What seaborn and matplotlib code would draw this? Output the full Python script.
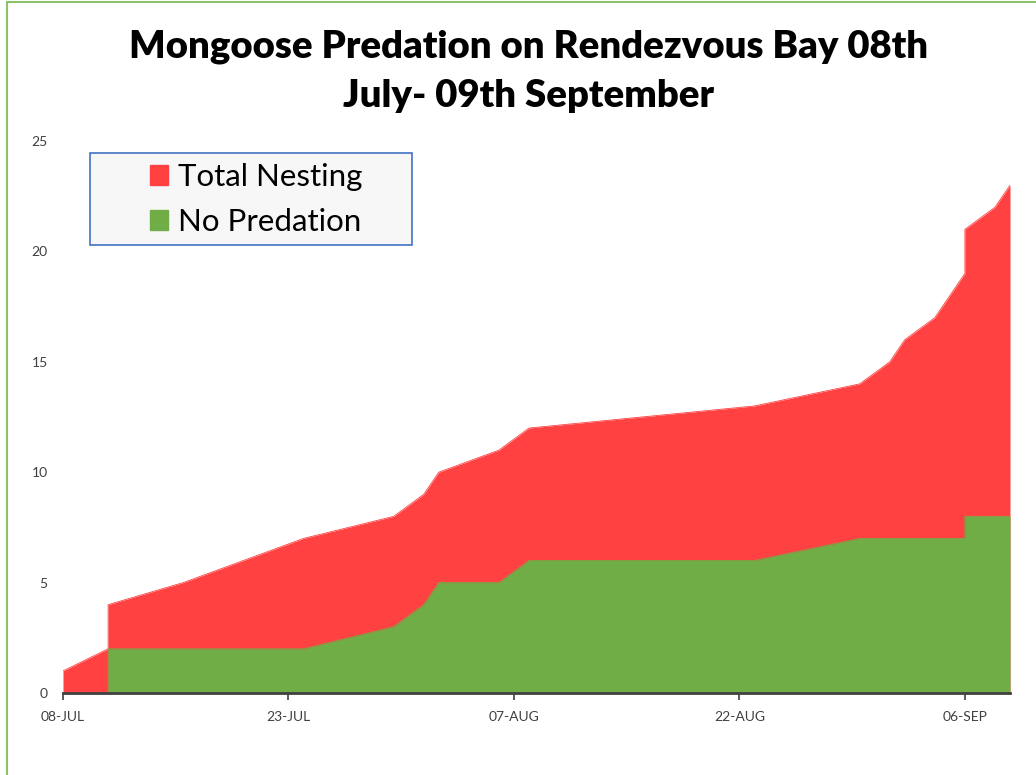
import pandas as pd
import matplotlib.pyplot as plt
from matplotlib.lines import Line2D
from matplotlib.patches import Patch, Rectangle
import seaborn as sns

# nest counts (cumulative); repeated dates give the vertical steps
dates = ['2020-07-08', '2020-07-11', '2020-07-11', '2020-07-16', '2020-07-24',
         '2020-07-30', '2020-08-01', '2020-08-02', '2020-08-06', '2020-08-08',
         '2020-08-23', '2020-08-30', '2020-09-01', '2020-09-02', '2020-09-04',
         '2020-09-06', '2020-09-06', '2020-09-08', '2020-09-09']
total_nesting = [1, 2, 4, 5, 7, 8, 9, 10, 11, 12, 13, 14, 15, 16, 17, 19, 21, 22, 23]
no_predation = [0, 0, 2, 2, 2, 3, 4, 5, 5, 6, 6, 7, 7, 7, 7, 7, 8, 8, 8]

tick_dates = ['2020-07-08', '2020-07-23', '2020-08-07', '2020-08-22', '2020-09-06']
tick_labels = ['08-JUL', '23-JUL', '07-AUG', '22-AUG', '06-SEP']

RED = '#FF4141'
GREEN = '#70AD47'
W, H = 1036, 775

df = pd.DataFrame({'DATE': pd.to_datetime(dates),
                   'Total Nesting': total_nesting,
                   'No Predation': no_predation})

sns.set_style('white')
plt.rcParams['font.family'] = ['Lato', 'DejaVu Sans']

fig = plt.figure(figsize=(W / 100, H / 100), dpi=100)
ax = fig.add_axes([63 / W, 1 - 693 / H, (1010 - 63) / W, (693 - 141) / H])

# outlines with seaborn, areas filled underneath
sns.lineplot(x='DATE', y='Total Nesting', data=df, estimator=None, sort=False,
             color=RED, linewidth=0.6, ax=ax)
sns.lineplot(x='DATE', y='No Predation', data=df, estimator=None, sort=False,
             color=GREEN, linewidth=0.6, ax=ax)
ax.fill_between(df['DATE'], 0, df['Total Nesting'], color=RED, linewidth=0)
ax.fill_between(df['DATE'], 0, df['No Predation'], color=GREEN, linewidth=0)

ax.set_xlim(pd.Timestamp('2020-07-08'), pd.Timestamp('2020-09-09'))
ax.set_ylim(0, 25)
ax.set_xticks(pd.to_datetime(tick_dates))
ax.set_xticklabels(tick_labels)
ax.set_yticks([0, 5, 10, 15, 20, 25])
ax.set_xlabel('')
ax.set_ylabel('')

for s in ['top', 'right', 'left']:
    ax.spines[s].set_visible(False)
ax.spines['bottom'].set_color('#404040')
ax.spines['bottom'].set_linewidth(2)
ax.tick_params(axis='x', length=5, width=1.2, color='#404040', pad=8,
               labelsize=10, labelcolor='#404040', direction='out', bottom=True)
ax.tick_params(axis='y', length=0, pad=11, labelsize=10, labelcolor='#404040')

fig.text(0.51, 1 - 71 / H, 'Mongoose Predation on Rendezvous Bay 08th\nJuly- 09th September',
         ha='center', va='center', fontsize=27.5, fontweight='heavy', linespacing=1.55,
         color='black')

# legend frame drawn separately so the inner padding matches
fig.add_artist(Rectangle((90 / W, 1 - 245 / H), (412 - 90) / W, (245 - 153) / H,
                         transform=fig.transFigure, facecolor='#F7F7F7',
                         edgecolor='#4472C4', linewidth=1.2, zorder=3))
handles = [Patch(facecolor=RED, edgecolor=RED, label='Total Nesting'),
           Patch(facecolor=GREEN, edgecolor=GREEN, label='No Predation')]
leg = fig.legend(handles=handles, loc='upper left', bbox_to_anchor=(150 / W, 1 - 163 / H),
                 fontsize=22.5, frameon=False, handlelength=0.58, handleheight=0.58,
                 handletextpad=0.32, borderpad=0, labelspacing=0.55, borderaxespad=0,
                 labelcolor='black')
leg.set_zorder(4)

# chart-area border (only the left and top edges show in the crop)
fig.add_artist(Line2D([7 / W, 7 / W], [0, 1 - 2 / H], transform=fig.transFigure,
                      color='#8CC26A', linewidth=1.5))
fig.add_artist(Line2D([7 / W, 1], [1 - 2 / H, 1 - 2 / H], transform=fig.transFigure,
                      color='#8CC26A', linewidth=1.5))

plt.savefig('out.png', dpi=100)
